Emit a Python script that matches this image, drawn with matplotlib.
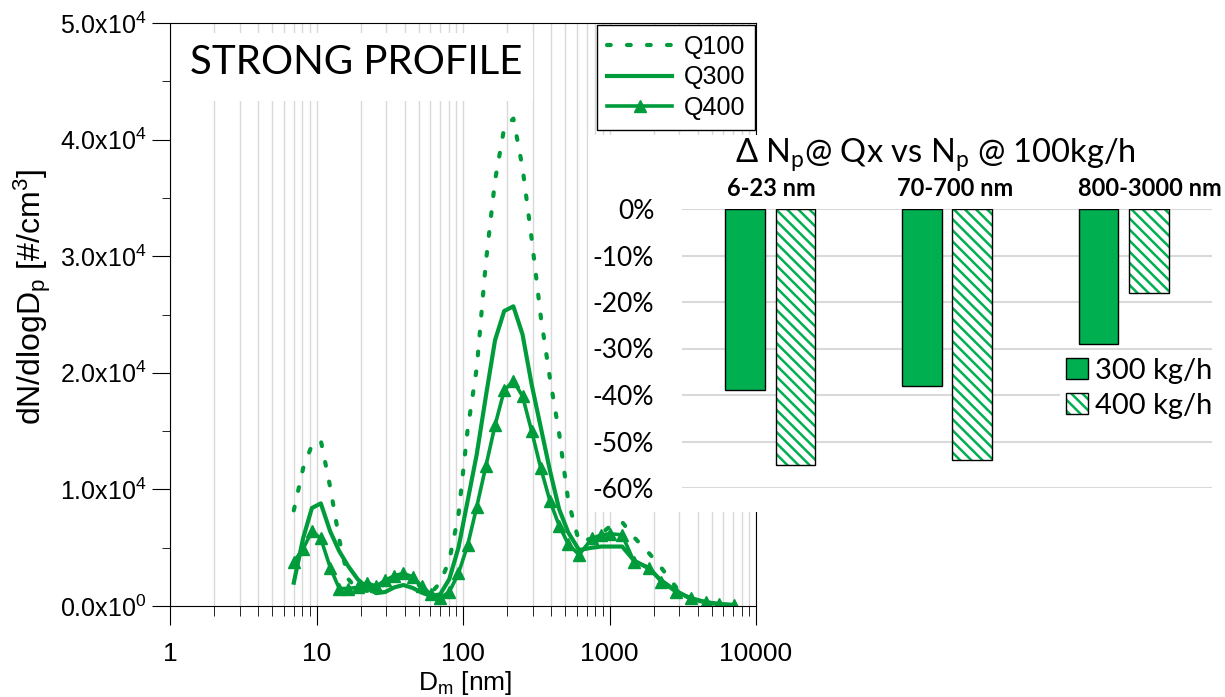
import matplotlib.pyplot as plt
from matplotlib.patches import Patch, Rectangle
from matplotlib.legend_handler import HandlerTuple
from matplotlib.ticker import LogLocator, NullFormatter, MultipleLocator
import numpy as np

# particle size distribution (dN/dlogDp, #/cm3) vs mobility diameter (nm)
dp_nm = [7.0, 8.1, 9.3, 10.7, 12.4, 14.3, 16.5, 19.1, 22.0, 25.5, 29.4, 34.0,
         39.2, 45.3, 52.3, 60.4, 69.8, 80.6, 93.1, 107.5, 124.1, 143.3, 165.5,
         191.1, 220.7, 254.8, 294.2, 339.8, 392.4, 453.2, 523.3, 620, 760, 880,
         1000, 1220, 1470, 1870, 2250, 2850, 3600, 4560, 5600, 7080]
q100 = [8200, 11800, 13800, 14200, 10200, 5700, 2300, 1400, 1300, 1400, 1900, 2300,
        2500, 2200, 1600, 1100, 2000, 3900, 7800, 15100, 20400, 29500, 36500,
        41000, 41800, 37600, 31500, 24800, 19500, 14800, 9000, 5500, 5800, 6200,
        6800, 7200, 5900, 4500, 3300, 1600, 700, 300, 150, 50]
q300 = [2000, 5800, 8400, 8800, 6400, 4700, 3400, 2300, 1600, 1100, 1200, 1600,
        1800, 1550, 1150, 850, 1000, 2300, 5000, 9000, 13000, 18000, 22800,
        25300, 25700, 23300, 19000, 15300, 11600, 8300, 6300, 4800, 5000, 5100,
        5100, 5100, 3900, 3200, 2200, 1300, 600, 300, 150, 80]
q400 = [3800, 4900, 6400, 5800, 3300, 1500, 1500, 1600, 2000, 1700, 2200, 2600,
        2800, 2500, 1700, 1000, 700, 1200, 2800, 5200, 8500, 12000, 15500,
        18500, 19300, 18000, 15000, 11800, 9000, 6900, 5300, 4400, 5800, 6100,
        6200, 6100, 3800, 3300, 2100, 1200, 700, 350, 200, 100]

x_ticks = [1, 10, 100, 1000, 10000]
x_tick_labels = ['1', '10', '100', '1000', '10000']
y_ticks = [0, 10000, 20000, 30000, 40000, 50000]
y_tick_labels = ['0.0x10$^\\mathregular{0}$', '1.0x10$^\\mathregular{4}$', '2.0x10$^\\mathregular{4}$',
                 '3.0x10$^\\mathregular{4}$', '4.0x10$^\\mathregular{4}$', '5.0x10$^\\mathregular{4}$']

# inset: change of particle number vs 100 kg/h
bands = ['6-23 nm', '70-700 nm', '800-3000 nm']
delta_300 = [-39, -38, -29]
delta_400 = [-55, -54, -18]
pct_ticks = [0, -10, -20, -30, -40, -50, -60]
pct_labels = ['0%', '-10%', '-20%', '-30%', '-40%', '-50%', '-60%']

plt.rcParams['font.family'] = ['Liberation Sans', 'DejaVu Sans']
plt.rcParams['hatch.linewidth'] = 1.8
calibri = ['Lato', 'DejaVu Sans']
line_green = '#009c3b'
bar_green = '#00b050'
hatch = '\\\\\\'

W, H = 1225, 697


def box(x0, y0, x1, y1):
    return [x0 / W, 1 - y1 / H, (x1 - x0) / W, (y1 - y0) / H]


fig = plt.figure(figsize=(12.25, 6.97), dpi=100)
ax = fig.add_axes(box(170, 23, 756, 606))
ax.plot(dp_nm, q100, color=line_green, lw=3, ls=(0, (0.9, 3.9)),
        dash_capstyle='round', label='Q100')
ax.plot(dp_nm, q300, color=line_green, lw=3, solid_joinstyle='round', label='Q300')
ax.plot(dp_nm, q400, color=line_green, lw=2.6, marker='^', ms=9,
        solid_joinstyle='round', label='Q400')
ax.set_xscale('log')
ax.set_xlim(1, 10000)
ax.set_ylim(0, 50000)
ax.set_xticks(x_ticks)
ax.set_xticklabels(x_tick_labels)
ax.xaxis.set_minor_locator(LogLocator(base=10, subs=range(2, 10)))
ax.xaxis.set_minor_formatter(NullFormatter())
ax.set_yticks(y_ticks)
ax.set_yticklabels(y_tick_labels)
ax.yaxis.set_minor_locator(MultipleLocator(5000))
ax.grid(True, which='both', axis='x', color='#d9d9d9', lw=1)
ax.set_axisbelow(True)
ax.tick_params(axis='x', which='major', length=14, pad=12, labelsize=19)
ax.tick_params(axis='x', which='minor', length=7)
ax.tick_params(axis='y', which='major', length=13, pad=4, labelsize=18)
ax.tick_params(axis='y', which='minor', length=6)
ax.set_xlabel('D$\\mathregular{_m}$ [nm]', fontsize=19)
ax.xaxis.set_label_coords(0.503, -0.108)
ax.set_ylabel('dN/dlogD$\\mathregular{_p}$ [#/cm$\\mathregular{^3}$]', fontsize=23)
ax.yaxis.set_label_coords(-0.2, 0.53)
ax.legend(loc='upper right', bbox_to_anchor=(755 / W, 1 - 25 / H),
          bbox_transform=fig.transFigure, borderaxespad=0, fontsize=18,
          handlelength=2.6, handletextpad=0.45, labelspacing=0.25,
          fancybox=False, edgecolor='black', framealpha=1)

# white box behind the title text
fig.add_artist(Rectangle((176 / W, 1 - 101 / H), 357 / W, 68 / H,
                         transform=fig.transFigure, facecolor='white',
                         edgecolor='none', zorder=1))
fig.text(190 / W, 1 - 62 / H, 'STRONG PROFILE', fontsize=29, family=calibri,
         ha='left', va='center', zorder=2)

# white background of the inset
fig.add_artist(Rectangle((588 / W, 1 - 512 / H), 637 / W, 377 / H,
                         transform=fig.transFigure, facecolor='white',
                         edgecolor='none', zorder=1))

ax2 = fig.add_axes(box(682, 209, 1212, 488), zorder=2)
ax2.patch.set_alpha(0)
pos = np.arange(len(bands))
ax2.bar(pos - 0.142, delta_300, width=0.225, color=bar_green, edgecolor='black', lw=1)
ax2.bar(pos + 0.142, delta_400, width=0.225, color='white', edgecolor=bar_green,
        hatch=hatch, lw=0)
ax2.bar(pos + 0.142, delta_400, width=0.225, fill=False, edgecolor='black', lw=1)
ax2.set_xlim(-0.5, 2.5)
ax2.set_ylim(-60, 0)
ax2.set_yticks(pct_ticks)
ax2.set_yticklabels(pct_labels, family=calibri, fontsize=19)
ax2.yaxis.grid(True, color='#d9d9d9', lw=1.5)
ax2.set_axisbelow(True)
ax2.set_xticks([])
ax2.tick_params(length=0)
ax2.tick_params(axis='y', pad=20)
for s in ax2.spines.values():
    s.set_visible(False)

# band labels above the bars
band_x = [771, 955, 1150]
for bx, name in zip(band_x, bands):
    fig.text(bx / W, 1 - 188 / H, name, ha='center', va='center', family=calibri,
             fontsize=17, fontweight='bold', zorder=3)
fig.text(935 / W, 1 - 155 / H, '\u0394 N$\\mathregular{_p}$@ Qx vs N$\\mathregular{_p}$ @ 100kg/h',
         ha='center', va='center', fontsize=23.5, family=calibri, zorder=3)

handles = [Patch(facecolor=bar_green, edgecolor='black'),
           (Patch(facecolor='white', edgecolor=bar_green, hatch=hatch, lw=0),
            Patch(fill=False, edgecolor='black'))]
ax2.legend(handles, ['300 kg/h', '400 kg/h'], loc='upper left',
           bbox_to_anchor=(1060 / W, 1 - 352 / H), bbox_transform=fig.transFigure,
           handler_map={tuple: HandlerTuple(ndivide=1)}, prop={'family': calibri, 'size': 21},
           handlelength=0.75, handleheight=0.75, handletextpad=0.25, labelspacing=0.3,
           frameon=True, edgecolor='none', facecolor='white', framealpha=1,
           fancybox=False, borderaxespad=0, borderpad=0.2)

fig.savefig('out.png', dpi=100)
